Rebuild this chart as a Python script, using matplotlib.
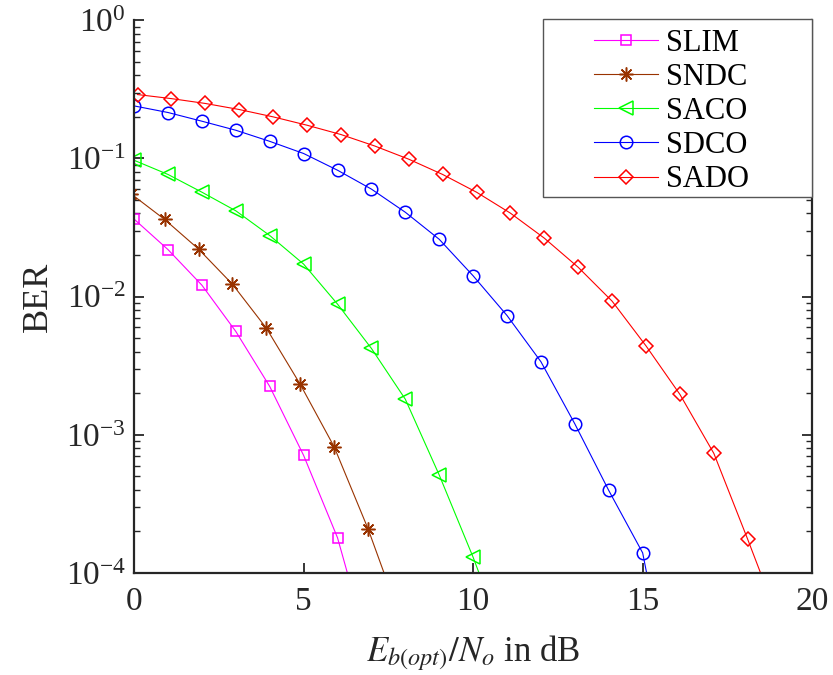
import matplotlib
matplotlib.use("Agg")
import matplotlib.pyplot as plt
from matplotlib.patches import Rectangle

plt.rcParams['font.family'] = ['Liberation Serif', 'DejaVu Serif']
plt.rcParams['mathtext.fontset'] = 'stix'

# data
x_slim = [0, 1, 2, 3, 4, 5, 6, 7]
ber_slim = [0.0364, 0.0219, 0.0121, 0.0056, 0.00224, 0.00071, 0.00018, 2.4e-5]

x_sndc = [-0.1, 0.9, 1.9, 2.9, 3.9, 4.9, 5.9, 6.9, 7.9]
ber_sndc = [0.0557, 0.0362, 0.0221, 0.0123, 0.00592, 0.00232, 0.00082, 0.000209, 4.4e-5]

x_saco = [0, 1, 2, 3, 4, 5, 6, 7, 8, 9, 10, 11]
ber_saco = [0.097, 0.0766, 0.057, 0.0418, 0.0277, 0.0172, 0.00883, 0.00422,
            0.00181, 0.000512, 0.00013, 2.9e-5]

x_sdco = [0, 1, 2, 3, 4, 5, 6, 7, 8, 9, 10, 11, 12, 13, 14, 15, 16]
ber_sdco = [0.240, 0.215, 0.186, 0.160, 0.133, 0.1086, 0.0822, 0.060, 0.0408,
            0.026, 0.01415, 0.0073, 0.00338, 0.0012, 0.000396, 0.00014, 8e-6]

x_sado = [0.1, 1.1, 2.1, 3.1, 4.1, 5.1, 6.1, 7.1, 8.1, 9.1, 10.1, 11.1, 12.1,
          13.1, 14.1, 15.1, 16.1, 17.1, 18.1, 19.1]
ber_sado = [0.290, 0.271, 0.250, 0.226, 0.200, 0.174, 0.149, 0.123, 0.0988,
            0.0766, 0.057, 0.0402, 0.0265, 0.0163, 0.00927, 0.0044, 0.00196,
            0.000734, 0.000175, 4.0e-5]

fig = plt.figure(figsize=(8.33, 6.75), dpi=100)
ax = fig.add_axes([0.161, 0.151, 0.814, 0.819])

lw = 0.8
mew = 1.1
ax.semilogy(x_slim, ber_slim, color='#ff00ff', marker='s', ms=7.5, mfc='none',
            mew=mew, lw=lw, label='SLIM')
ax.semilogy(x_sndc, ber_sndc, color='#993300', marker=(8, 2, 0), ms=10,
            mew=mew, lw=lw, label='SNDC')
ax.semilogy(x_saco, ber_saco, color='#00ff00', marker='<', ms=10.5, mfc='none',
            mew=mew, lw=lw, label='SACO')
ax.semilogy(x_sdco, ber_sdco, color='#0000ff', marker='o', ms=9, mfc='none',
            mew=mew, lw=lw, label='SDCO')
ax.semilogy(x_sado, ber_sado, color='#ff0000', marker='D', ms=7.5, mfc='none',
            mew=mew, lw=lw, label='SADO')

ax.set_xlim(0, 20)
ax.set_ylim(1e-4, 1)
ax.set_xticks([0, 5, 10, 15, 20])

for s in ['left', 'bottom', 'right']:
    ax.spines[s].set_linewidth(1.6)
    ax.spines[s].set_color('#262626')
ax.spines['top'].set_visible(False)

ax.tick_params(axis='both', which='major', direction='in', labelsize=24,
               width=1.3, length=7, colors='#262626', labelcolor='#262626')
ax.tick_params(axis='y', which='both', right=True, direction='in')
ax.tick_params(axis='y', which='minor', length=4, width=1.0, colors='#262626')
ax.tick_params(axis='x', pad=10)
ax.tick_params(axis='y', pad=6)

ax.set_xlabel(r'$E_{b(opt)}/N_o$ in dB', fontsize=25, color='#262626', labelpad=11)
ax.set_ylabel('BER', fontsize=26, color='#262626', labelpad=8)

# legend box drawn separately (wide padding as in the reference)
box = Rectangle((0.603, 0.68), 0.397, 0.322, transform=ax.transAxes,
                facecolor='white', edgecolor='#555555', lw=1.0, zorder=5,
                clip_on=False)
ax.add_patch(box)
leg = ax.legend(loc='upper left', bbox_to_anchor=(0.678, 0.985), fontsize=22,
                frameon=False, borderaxespad=0, borderpad=0, handlelength=2.1,
                handletextpad=0.25, labelspacing=0.17)
leg.set_zorder(6)

fig.savefig('out.png', dpi=100)
